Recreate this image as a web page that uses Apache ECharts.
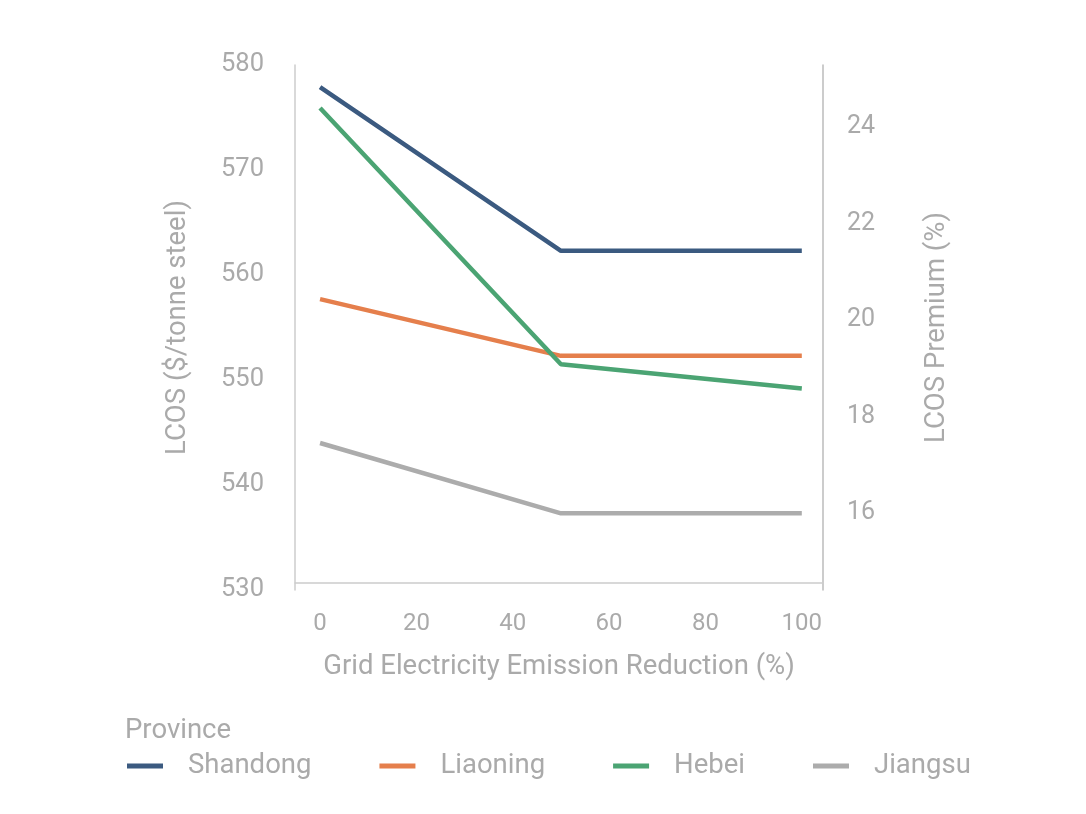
<!DOCTYPE html>
<html>
<head>
<meta charset="utf-8">
<script src="https://cdn.jsdelivr.net/npm/echarts@6/dist/echarts.min.js"></script>
<style>
  html, body { margin: 0; padding: 0; background: #fff; }
  #chart { width: 1086px; height: 814px; }
</style>
</head>
<body>
<div id="chart"></div>
<script>
// 数据
var reduction = [0, 50, 100];
var shandong = [577.9, 562.3, 562.3];
var liaoning = [557.7, 552.3, 552.3];
var hebei = [575.9, 551.5, 549.2];
var jiangsu = [544.0, 537.3, 537.3];
var provinces = ['Shandong', 'Liaoning', 'Hebei', 'Jiangsu'];
var colors = ['#3b5a80', '#e57f4c', '#4ba473', '#acacac'];
var xTicks = [0, 20, 40, 60, 80, 100];
var premiumTicks = [16, 18, 20, 22, 24];

var grey = '#aaaaaa';
var font = 'Roboto';

function pairs(ys) {
    var out = [];
    for (var i = 0; i < reduction.length; i++) {
        out.push([reduction[i], ys[i]]);
    }
    return out;
}

var seriesData = [shandong, liaoning, hebei, jiangsu];
var series = [];
for (var i = 0; i < provinces.length; i++) {
    series.push({
        name: provinces[i],
        type: 'line',
        yAxisIndex: 0,
        data: pairs(seriesData[i]),
        symbol: 'none',
        lineStyle: { width: 4.5, color: colors[i] },
        itemStyle: { color: colors[i] }
    });
}

var myChart = echarts.init(document.getElementById('chart'), null, { renderer: 'canvas' });

var option = {
    animation: false,
    textStyle: { fontFamily: font },
    title: {
        text: 'Province',
        left: 125,
        top: 717,
        padding: 0,
        textStyle: { color: grey, fontSize: 27.5, fontWeight: 'normal', fontFamily: font }
    },
    legend: {
        data: provinces,
        left: 127,
        top: 752,
        padding: 0,
        icon: 'rect',
        itemWidth: 36,
        itemHeight: 5,
        itemGap: 68,
        textStyle: { color: grey, fontSize: 27.5, fontFamily: font, padding: [0, 0, 0, 20] }
    },
    grid: {
        left: 295,
        right: 1086 - 823,
        top: 65,
        bottom: 814 - 590
    },
    xAxis: {
        type: 'value',
        min: -5.2,
        max: 104.4,
        offset: -7,
        name: 'Grid Electricity Emission Reduction (%)',
        nameLocation: 'middle',
        nameGap: 70,
        nameTextStyle: { color: grey, fontSize: 27.5, fontFamily: font },
        axisLine: { show: true, lineStyle: { color: '#cccccc', width: 1.5 } },
        axisTick: { show: false },
        splitLine: { show: false },
        axisLabel: {
            customValues: xTicks,
            color: grey,
            fontSize: 24,
            margin: 29,
            fontFamily: font
        }
    },
    yAxis: [{
        type: 'value',
        min: 530,
        max: 580,
        interval: 10,
        position: 'left',
        name: 'LCOS ($/tonne steel)',
        nameLocation: 'middle',
        nameRotate: 90,
        nameGap: 103,
        nameTextStyle: { color: grey, fontSize: 27.5, fontFamily: font },
        axisLine: { show: true, onZero: false, lineStyle: { color: '#cccccc', width: 1.5 } },
        axisTick: { show: false },
        splitLine: { show: false },
        axisLabel: { color: grey, fontSize: 25.5, margin: 31, fontFamily: font, padding: [7, 0, 0, 0] }
    }, {
        type: 'value',
        min: 14.4,
        max: 25.29,
        position: 'right',
        name: 'LCOS Premium (%)',
        nameLocation: 'middle',
        nameRotate: 90,
        nameGap: 100,
        nameTextStyle: { color: grey, fontSize: 27.5, fontFamily: font },
        axisLine: { show: true, onZero: false, lineStyle: { color: '#bbbbbb', width: 1.5 } },
        axisTick: { show: false },
        splitLine: { show: false },
        axisLabel: {
            customValues: premiumTicks,
            color: grey,
            fontSize: 25,
            margin: 24,
            fontFamily: font
        }
    }],
    series: series
};

myChart.setOption(option);
</script>
</body>
</html>
